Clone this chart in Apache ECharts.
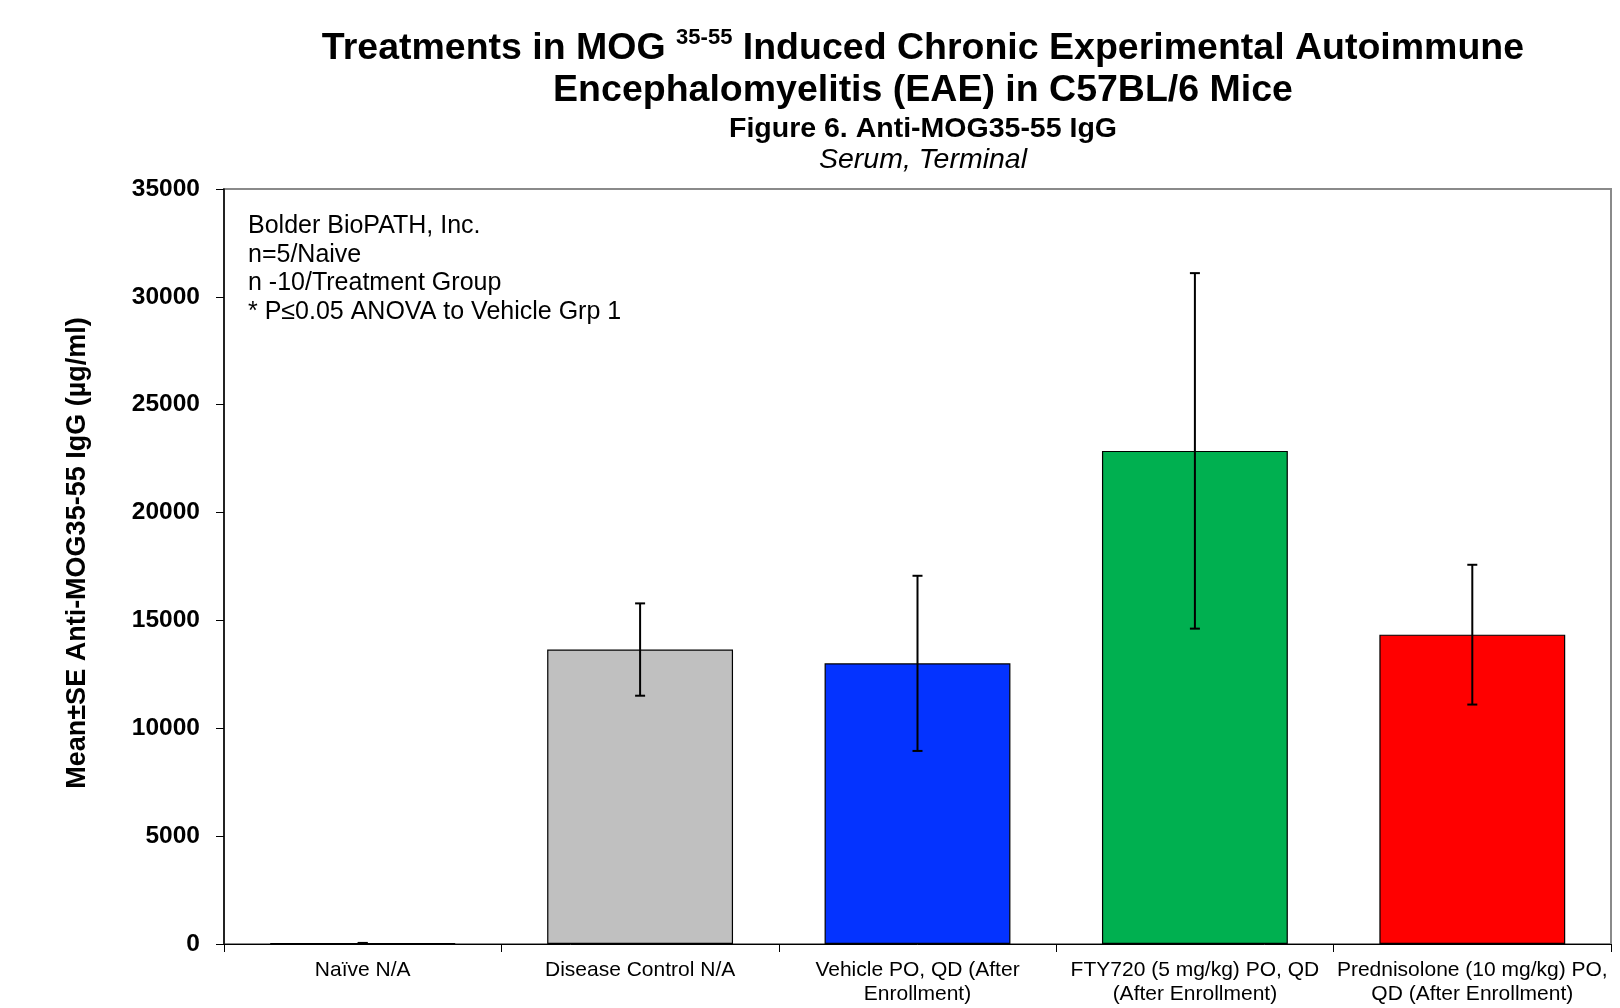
<!DOCTYPE html>
<html>
<head>
<meta charset="utf-8">
<script src="https://cdn.jsdelivr.net/npm/echarts@6/dist/echarts.min.js"></script>
<style>
html,body{margin:0;padding:0;background:#fff;}
#chart{width:1620px;height:1008px;}
</style>
</head>
<body>
<div id="chart"></div>
<script>
var categories = [
  'Naïve N/A',
  'Disease Control N/A',
  'Vehicle PO, QD (After\nEnrollment)',
  'FTY720 (5 mg/kg) PO, QD\n(After Enrollment)',
  'Prednisolone (10 mg/kg) PO,\nQD (After Enrollment)'
];
var means = [40, 13650, 13010, 22860, 14340];
var errors = [10, 2140, 4060, 8240, 3240];
var barColors = ['#C0C0C0', '#C0C0C0', '#0433FF', '#00B050', '#FF0000'];
var yTicks = [0, 5000, 10000, 15000, 20000, 25000, 30000, 35000];
var yAxisTitle = 'Mean±SE Anti-MOG35-55 IgG (µg/ml)';
var notes = [
  'Bolder BioPATH, Inc.',
  'n=5/Naive',
  'n -10/Treatment Group',
  '* P≤0.05 ANOVA to Vehicle Grp 1'
];

var SANS = '"Liberation Sans", Arial, sans-serif';

var chart = echarts.init(document.getElementById('chart'), null, {renderer: 'canvas'});

var barData = means.map(function (v, i) {
  return {value: v, itemStyle: {color: barColors[i]}};
});
var errData = means.map(function (v, i) {
  return [i, v - errors[i], v + errors[i]];
});

var option = {
  backgroundColor: '#ffffff',
  animation: false,
  title: [
    {
      left: 918, top: 22, textAlign: 'center',
      text: '{b|Treatments in MOG }{s|35-55}{b| Induced Chronic Experimental Autoimmune}\n{b|Encephalomyelitis (EAE) in C57BL/6 Mice}',
      textStyle: {
        rich: {
          b: {fontFamily: SANS, fontWeight: 'bold', fontSize: 37.5, color: '#000', lineHeight: 42.5},
          s: {fontFamily: SANS, fontWeight: 'bold', fontSize: 22, color: '#000', lineHeight: 42.5, verticalAlign: 'top', padding: [0, 0, 8, 0]}
        }
      }
    },
    {
      left: 918, top: 110, textAlign: 'center',
      text: 'Figure 6. Anti-MOG35-55 IgG',
      textStyle: {fontFamily: SANS, fontWeight: 'bold', fontSize: 28.5, color: '#000'}
    },
    {
      left: 918, top: 141, textAlign: 'center',
      text: 'Serum, Terminal',
      textStyle: {fontFamily: SANS, fontStyle: 'italic', fontWeight: 'normal', fontSize: 28.5, color: '#000'}
    }
  ],
  graphic: [
    {
      type: 'text', left: 248, top: 212,
      style: {
        text: notes.join('\n'),
        fontFamily: SANS, fontSize: 25, lineHeight: 28.6, fill: '#000'
      }
    },
    {
      type: 'text', x: 78, y: 553, rotation: Math.PI / 2,
      style: {
        text: yAxisTitle,
        fontFamily: SANS, fontWeight: 'bold', fontSize: 27, fill: '#000',
        align: 'center', verticalAlign: 'middle'
      }
    }
  ],
  grid: {
    left: 224, right: 9, top: 189, bottom: 64,
    show: true, borderColor: '#8a8a8a', borderWidth: 2, backgroundColor: 'transparent'
  },
  xAxis: {
    type: 'category',
    data: categories,
    axisLine: {lineStyle: {color: '#000', width: 1}},
    axisTick: {show: true, inside: false, length: 8, lineStyle: {color: '#000'}},
    axisLabel: {
      fontFamily: SANS, fontSize: 21, color: '#000', margin: 14, lineHeight: 24,
      interval: 0
    }
  },
  yAxis: {
    type: 'value',
    min: 0, max: 35000, interval: 5000,
    splitLine: {show: false},
    axisLine: {show: true, lineStyle: {color: '#000', width: 1.5}},
    axisTick: {show: true, inside: false, length: 8, lineStyle: {color: '#000'}},
    axisLabel: {
      fontFamily: SANS, fontWeight: 'bold', fontSize: 24.5, color: '#000', margin: 24,
      formatter: function (v) { return yTicks.indexOf(v) >= 0 ? String(v) : ''; }
    }
  },
  series: [
    {
      type: 'bar',
      data: barData,
      barCategoryGap: '33%',
      itemStyle: {borderColor: '#000', borderWidth: 1.2},
      z: 2
    },
    {
      type: 'custom',
      data: errData,
      z: 5,
      renderItem: function (params, api) {
        var x = api.value(0);
        var lo = api.coord([x, api.value(1)]);
        var hi = api.coord([x, api.value(2)]);
        var cap = 5;
        var st = {stroke: '#000', lineWidth: 2};
        return {
          type: 'group',
          children: [
            {type: 'line', shape: {x1: lo[0], y1: lo[1], x2: hi[0], y2: hi[1]}, style: st},
            {type: 'line', shape: {x1: hi[0] - cap, y1: hi[1], x2: hi[0] + cap, y2: hi[1]}, style: st},
            {type: 'line', shape: {x1: lo[0] - cap, y1: lo[1], x2: lo[0] + cap, y2: lo[1]}, style: st}
          ]
        };
      }
    }
  ]
};
chart.setOption(option);
</script>
</body>
</html>
